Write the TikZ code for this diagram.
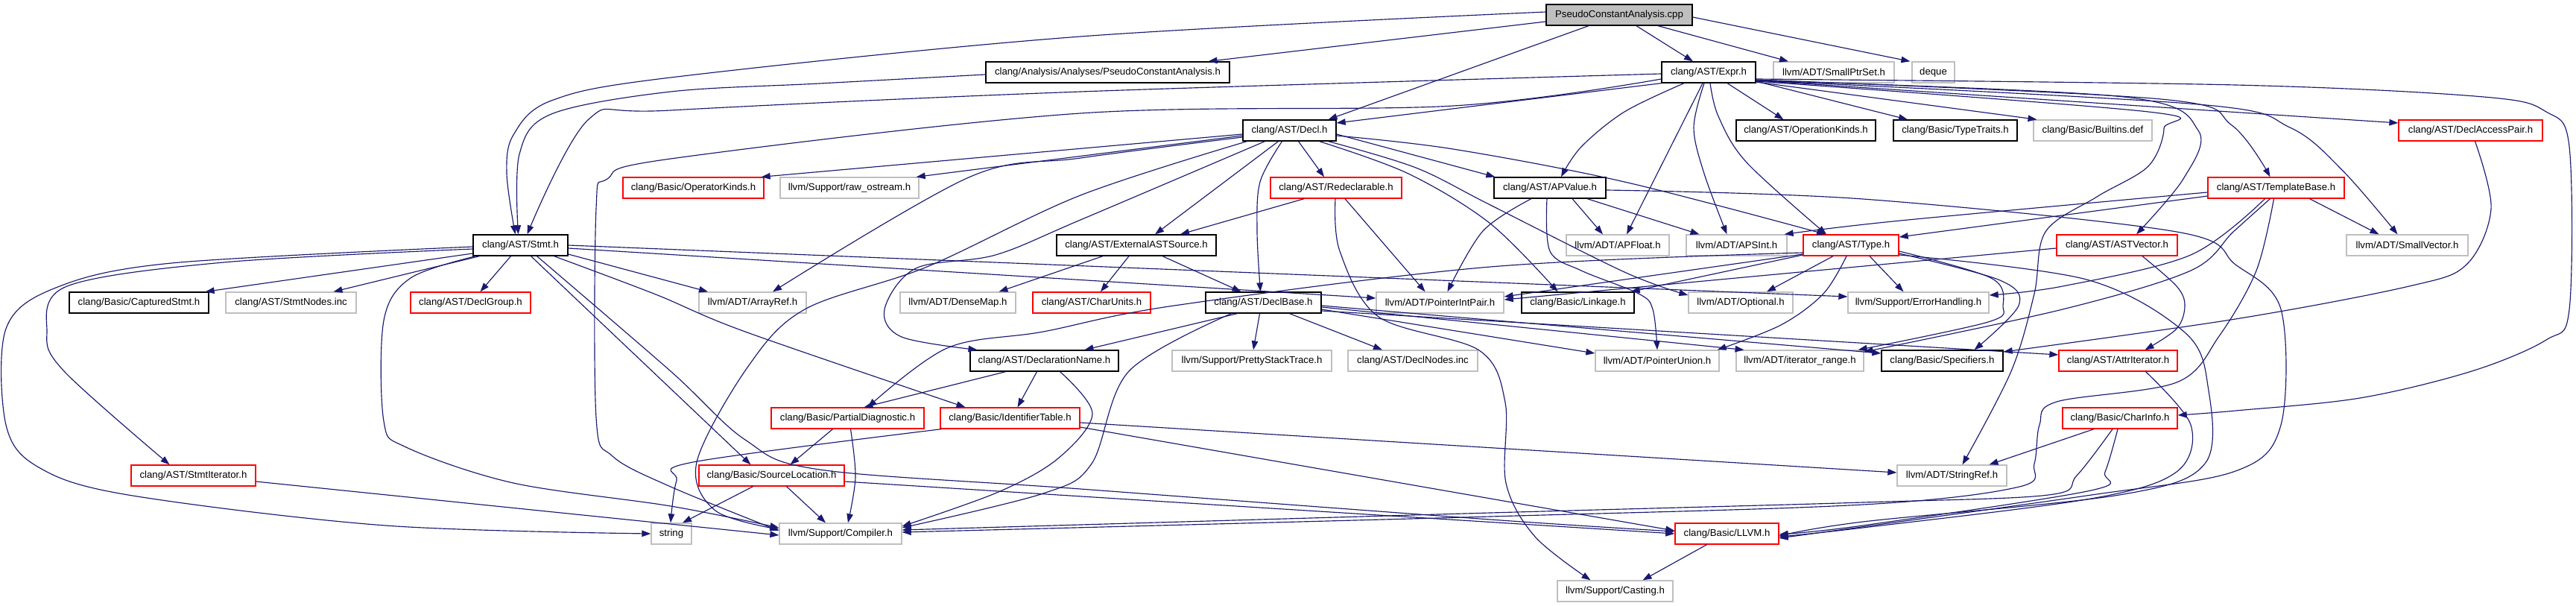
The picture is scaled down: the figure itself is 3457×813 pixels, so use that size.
\documentclass[tikz,border=0pt]{standalone}
\usepackage{fontspec}
\setmainfont{Liberation Sans}
\usetikzlibrary{arrows.meta}
\definecolor{edgec}{HTML}{191970}
\definecolor{grayb}{HTML}{BFBFBF}
\definecolor{redb}{HTML}{FF0000}
\newcommand{\nodefnt}{\fontsize{13.2}{15}\selectfont}
\begin{document}
\begin{tikzpicture}[x=1pt,y=-1pt,
  nd/.style={rectangle, minimum height=28pt, inner xsep=2pt, inner ysep=0pt, line width=1.3pt, font=\nodefnt, text=black},
  blk/.style={nd, draw=black},
  rednd/.style={nd, draw=redb},
  grynd/.style={nd, draw=grayb},
  edg/.style={color=edgec, line width=1.15pt, -{Triangle[length=12pt,width=8.5pt]}},
  sm/.style={smooth, tension=0.55}
]
\useasboundingbox (0,0) rectangle (3457,813);
% row 0
\node[blk, fill=grayb, minimum width=196pt] (cpp) at (2173,20) {PseudoConstantAnalysis.cpp};
% row 1
\node[blk, minimum width=327pt] (pcah) at (1486.5,97) {clang/Analysis/Analyses/PseudoConstantAnalysis.h};
\node[blk, minimum width=126pt] (expr) at (2293,97) {clang/AST/Expr.h};
\node[grynd, minimum width=162pt] (smallptrset) at (2461,97) {llvm/ADT/SmallPtrSet.h};
\node[grynd, minimum width=57pt] (deque) at (2594.5,97) {deque};
% row 2
\node[blk, minimum width=125pt] (decl) at (1730.5,175) {clang/AST/Decl.h};
\node[blk, minimum width=187pt] (opkinds) at (2423.5,175) {clang/AST/OperationKinds.h};
\node[blk, minimum width=166pt] (typetraits) at (2624,175) {clang/Basic/TypeTraits.h};
\node[grynd, minimum width=159pt] (builtins) at (2808.5,175) {clang/Basic/Builtins.def};
\node[rednd, minimum width=193pt] (declaccess) at (3315.5,175) {clang/AST/DeclAccessPair.h};
% row 3
\node[rednd, minimum width=189pt] (operatorkinds) at (930.5,252) {clang/Basic/OperatorKinds.h};
\node[grynd, minimum width=186pt] (rawostream) at (1140,252) {llvm/Support/raw\_ostream.h};
\node[rednd, minimum width=176pt] (redecl) at (1793,252) {clang/AST/Redeclarable.h};
\node[blk, minimum width=150pt] (apvalue) at (2080,252) {clang/AST/APValue.h};
\node[rednd, minimum width=183pt] (templatebase) at (3054.5,252) {clang/AST/TemplateBase.h};
% row 4
\node[blk, minimum width=127pt] (stmt) at (698.5,329) {clang/AST/Stmt.h};
\node[blk, minimum width=214pt] (extast) at (1525,329) {clang/AST/ExternalASTSource.h};
\node[grynd, minimum width=138pt] (apfloat) at (2171,329) {llvm/ADT/APFloat.h};
\node[grynd, minimum width=135pt] (apsint) at (2330.5,329) {llvm/ADT/APSInt.h};
\node[rednd, minimum width=128pt] (type) at (2484,329) {clang/AST/Type.h};
\node[rednd, minimum width=162pt] (astvector) at (2841,329) {clang/AST/ASTVector.h};
\node[grynd, minimum width=163pt] (smallvector) at (3230.5,329) {llvm/ADT/SmallVector.h};
% row 5
\node[blk, minimum width=187pt] (captured) at (186.5,406) {clang/Basic/CapturedStmt.h};
\node[grynd, minimum width=175pt] (stmtnodes) at (390.5,406) {clang/AST/StmtNodes.inc};
\node[rednd, minimum width=161pt] (declgroup) at (631.5,406) {clang/AST/DeclGroup.h};
\node[grynd, minimum width=144pt] (arrayref) at (1010,406) {llvm/ADT/ArrayRef.h};
\node[grynd, minimum width=155pt] (densemap) at (1285.5,406) {llvm/ADT/DenseMap.h};
\node[rednd, minimum width=158pt] (charunits) at (1465,406) {clang/AST/CharUnits.h};
\node[blk, minimum width=155pt] (declbase) at (1695.5,406) {clang/AST/DeclBase.h};
\node[grynd, minimum width=171pt] (pointerintpair) at (1932.5,406) {llvm/ADT/PointerIntPair.h};
\node[blk, minimum width=151pt] (linkage) at (2117.5,406) {clang/Basic/Linkage.h};
\node[grynd, minimum width=140pt] (optional) at (2336,406) {llvm/ADT/Optional.h};
\node[grynd, minimum width=189pt] (errorhandling) at (2574.5,406) {llvm/Support/ErrorHandling.h};
% row 6
\node[blk, minimum width=199pt] (declname) at (1401.5,484) {clang/AST/DeclarationName.h};
\node[grynd, minimum width=214pt] (prettystack) at (1680,484) {llvm/Support/PrettyStackTrace.h};
\node[grynd, minimum width=174pt] (declnodes) at (1896,484) {clang/AST/DeclNodes.inc};
\node[grynd, minimum width=166pt] (pointerunion) at (2224,484) {llvm/ADT/PointerUnion.h};
\node[grynd, minimum width=171pt] (iterrange) at (2415.5,484) {llvm/ADT/iterator\_range.h};
\node[blk, minimum width=163pt] (specifiers) at (2606.5,484) {clang/Basic/Specifiers.h};
\node[rednd, minimum width=159pt] (attriter) at (2842.5,484) {clang/AST/AttrIterator.h};
% row 7
\node[rednd, minimum width=205pt] (partialdiag) at (1137.5,561) {clang/Basic/PartialDiagnostic.h};
\node[rednd, minimum width=187pt] (identtable) at (1355.5,561) {clang/Basic/IdentifierTable.h};
\node[rednd, minimum width=154pt] (charinfo) at (2845,561) {clang/Basic/CharInfo.h};
% row 8
\node[rednd, minimum width=167pt] (stmtiter) at (259.5,638) {clang/AST/StmtIterator.h};
\node[rednd, minimum width=195pt] (sourceloc) at (1035.5,638) {clang/Basic/SourceLocation.h};
\node[grynd, minimum width=147pt] (stringref) at (2619.5,638) {llvm/ADT/StringRef.h};
% row 9
\node[grynd, minimum width=54pt] (string) at (901,716) {string};
\node[grynd, minimum width=164pt] (compiler) at (1128,716) {llvm/Support/Compiler.h};
\node[rednd, minimum width=139pt] (llvmh) at (2317.5,716) {clang/Basic/LLVM.h};
% row 10
\node[grynd, minimum width=155pt] (casting) at (2167.5,793) {llvm/Support/Casting.h};

% ---- edges from cpp
\draw[edg] plot[sm] coordinates {([yshift=4pt]cpp.west) (1450,49) (900,104) (740,135) (689,181) (680,233) ([xshift=-7pt]stmt.north)};
\draw[edg] ([yshift=-9pt]cpp.west) -- ([xshift=135pt]pcah.north);
\draw[edg] ([xshift=-41pt]cpp.south) -- ([xshift=52pt]decl.north);
\draw[edg] ([xshift=23pt]cpp.south) -- ([xshift=-21pt]expr.north);
\draw[edg] ([xshift=52pt]cpp.south) -- ([xshift=-61pt]smallptrset.north);
\draw[edg] ([yshift=-3pt]cpp.east) -- ([xshift=-2pt]deque.north west);
% ---- pcah
\draw[edg] plot[sm] coordinates {([yshift=-3pt]pcah.west) (1100,112) (900,123) (740,153) (697,207) ([xshift=-3pt]stmt.north)};
% ---- expr
\draw[edg] plot[sm] coordinates {([yshift=-2pt]expr.west) (1450,123) (900,148) (790,160) ([xshift=9pt]stmt.north)};
\draw[edg] plot[sm] coordinates {([yshift=-9pt]expr.west) (1950,142) (1450,152) (900,213) (815,240) (800,280) (800,560) (822,612) (900,653) ([yshift=4pt]compiler.west)};
\draw[edg] (expr.south west) -- ([yshift=10pt]decl.east);
\draw[edg] plot[sm] coordinates {([xshift=-33pt]expr.south) (2180,150) (2122,197) ([xshift=15pt]apvalue.north)};
\draw[edg] ([xshift=-8pt]expr.south) -- ([xshift=12pt]apfloat.north);
\draw[edg] plot[sm] coordinates {([xshift=-6pt]expr.south) (2273,171) (2287,233) ([xshift=-13pt]apsint.north)};
\draw[edg] plot[sm] coordinates {([xshift=2pt]expr.south) (2306,156) (2344,218) ([xshift=-33pt]type.north)};
\draw[edg] ([xshift=25pt]expr.south) -- ([xshift=-30pt]opkinds.north);
\draw[edg] ([yshift=-12pt]expr.east) -- ([xshift=-64pt]typetraits.north);
\draw[edg] ([yshift=-13pt]expr.east) -- ([xshift=-75pt]builtins.north);
\draw[edg] ([yshift=-11pt]expr.east) -- ([yshift=10pt]declaccess.west);
\draw[edg] plot[sm] coordinates {([yshift=-10pt]expr.east) (2900,133) (2995,168) ([xshift=-8pt]templatebase.north)};
\draw[edg] plot[sm] coordinates {([yshift=-11pt]expr.east) (2950,140) (3073,171) (3143,228) ([xshift=-13pt]smallvector.north)};
\draw[edg] plot[sm] coordinates {([yshift=-11pt]expr.east) (2850,130) (2950,175) (2930,240) ([xshift=26pt]astvector.north)};
\draw[edg] plot[sm] coordinates {([yshift=-12pt]expr.east) (2883,150) (2904,172) (2883,223) (2814,264) (2745,311) (2730,394) (2699,498) ([xshift=14pt]stringref.north)};
\draw[edg] plot[sm] coordinates {([yshift=-9pt]expr.east) (3000,114) (3333,130) (3417,150) (3448,197) (3448,415) (3417,456) (3317,498) (3167,534) (3000,551) ([yshift=4pt]charinfo.east)};
% ---- decl
\draw[edg] ([yshift=-5pt]decl.west) -- ([xshift=-4pt]operatorkinds.north east);
\draw[edg] ([yshift=-7pt]decl.west) -- ([xshift=-4pt]rawostream.north east);
\draw[edg] plot[sm] coordinates {([yshift=-9pt]decl.west) (1450,212) (1300,238) ([xshift=27pt]arrayref.north)};
\draw[edg] plot[sm] coordinates {([xshift=-57pt]decl.south) (1450,262) (1244,358) (1080,415) (1003,493) (935,620) (960,685) ([yshift=6pt]compiler.west)};
\draw[edg] plot[sm] coordinates {([xshift=-33pt]decl.south) (1450,295) (1336,342) (1229,360) (1187,415) (1210,452) ([xshift=-90pt]declname.north)};
\draw[edg] ([xshift=-15pt]decl.south) -- ([xshift=25pt]extast.north);
\draw[edg] plot[sm] coordinates {([xshift=-10pt]decl.south) (1691,244) (1687,311) ([xshift=-4pt]declbase.north)};
\draw[edg] ([xshift=12pt]decl.south) -- ([xshift=-16pt]redecl.north);
\draw[edg] ([yshift=-5pt]decl.east) -- ([xshift=2pt]apvalue.north west);
\draw[edg] plot[sm] coordinates {([yshift=-7pt]decl.east) (1950,200) (2180,244) ([xshift=-34pt]type.north)};
\draw[edg] plot[sm] coordinates {([xshift=40pt]decl.south) (1890,233) (2000,300) ([xshift=-27pt]linkage.north)};
\draw[edg] plot[sm] coordinates {([xshift=52pt]decl.south) (1900,225) (2000,275) (2180,365) ([yshift=10pt]optional.west)};
% ---- redecl
\draw[edg] ([xshift=-43pt]redecl.south) -- ([xshift=59pt]extast.north);
\draw[edg] ([xshift=12pt]redecl.south) -- ([xshift=-20pt]pointerintpair.north);
\draw[edg] plot[sm] coordinates {([xshift=-1pt]redecl.south) (1798,337) (1850,425) (1985,470) (2020,540) (2021,648) (2060,720) ([xshift=-33pt]casting.north)};
% ---- extast
\draw[edg] ([xshift=-10pt]extast.south) -- ([xshift=12pt]charunits.north);
\draw[edg] ([xshift=35pt]extast.south) -- ([xshift=-30pt]declbase.north);
\draw[edg] ([xshift=-45pt]extast.south) -- ([xshift=55pt]densemap.north);
% ---- declbase
\draw[edg] ([xshift=-35pt]declbase.south) -- ([xshift=54pt]declname.north);
\draw[edg] ([xshift=-5pt]declbase.south) -- ([xshift=2pt]prettystack.north);
\draw[edg] ([xshift=35pt]declbase.south) -- ([xshift=-41pt]declnodes.north);
\draw[edg] plot[sm] coordinates {([xshift=-43pt]declbase.south) (1515,498) (1465,622) (1400,662) ([yshift=8pt]compiler.east)};
\draw[edg] ([yshift=-9pt]declbase.east) -- ([yshift=10pt]pointerunion.west);
\draw[edg] ([yshift=-6pt]declbase.east) -- ([xshift=-75pt]iterrange.north);
\draw[edg] ([yshift=-4pt]declbase.east) -- ([yshift=10pt]specifiers.west);
\draw[edg] ([yshift=-11pt]declbase.east) -- ([yshift=8pt]attriter.west);
% ---- declname
\draw[edg] ([xshift=-52pt]declname.south) -- ([xshift=22pt]partialdiag.north);
\draw[edg] ([xshift=-10pt]declname.south) -- ([xshift=10pt]identtable.north);
\draw[edg] plot[sm] coordinates {([xshift=21pt]declname.south) (1466,555) (1420,615) (1340,660) ([yshift=10pt]compiler.east)};
% ---- partialdiag
\draw[edg] ([xshift=-20pt]partialdiag.south) -- ([xshift=25pt]sourceloc.north);
\draw[edg] plot[sm] coordinates {([xshift=4pt]partialdiag.south) (1148,640) ([xshift=10pt]compiler.north)};
% ---- identtable
\draw[edg] plot[sm] coordinates {([xshift=-92pt]identtable.south) (930,620) (908,645) ([xshift=-1pt]string.north)};
\draw[edg] ([yshift=-6pt]identtable.east) -- ([yshift=4pt]stringref.west);
\draw[edg] ([yshift=-12pt]identtable.east) -- ([yshift=4pt]llvmh.west);
% ---- sourceloc
\draw[edg] ([xshift=-25pt]sourceloc.south) -- ([xshift=15pt]string.north);
\draw[edg] ([xshift=20pt]sourceloc.south) -- ([xshift=-20pt]compiler.north);
\draw[edg] ([yshift=-8pt]sourceloc.east) -- (llvmh.west);
% ---- stmtiter
\draw[edg] ([yshift=-8pt]stmtiter.east) -- ([yshift=-2pt]compiler.west);
% ---- stmt
\draw[edg] plot[sm] coordinates {([yshift=-2pt]stmt.west) (230,353) (75,386) (8,441) (8,570) (52,627) (172,664) (517,705) (string.west)};
\draw[edg] plot[sm] coordinates {([yshift=-5pt]stmt.west) (300,352) (90,384) (63,446) (86,498) ([xshift=-32pt]stmtiter.north)};
\draw[edg] ([yshift=-11pt]stmt.west) -- ([xshift=-5pt]captured.north east);
\draw[edg] ([xshift=-55pt]stmt.south) -- ([xshift=57pt]stmtnodes.north);
\draw[edg] ([xshift=-13pt]stmt.south) -- ([xshift=13pt]declgroup.north);
\draw[edg] plot[sm] coordinates {([xshift=-60pt]stmt.south) (551,373) (515,430) (515,565) (545,600) (689,648) (900,679) ([yshift=8pt]compiler.west)};
\draw[edg] ([xshift=14pt]stmt.south) -- ([xshift=-28pt]sourceloc.north);
\draw[edg] plot[sm] coordinates {([xshift=22pt]stmt.south) (900,498) (1000,590) (1100,630) (1450,656) (2000,697) ([yshift=3pt]llvmh.west)};
\draw[edg] plot[sm] coordinates {([xshift=45pt]stmt.south) (880,395) (1000,445) ([xshift=-60pt]identtable.north)};
\draw[edg] ([yshift=-12pt]stmt.east) -- ([xshift=-60pt]arrayref.north);
\draw[edg] ([yshift=-4pt]stmt.east) -- ([yshift=6pt]pointerintpair.west);
\draw[edg] (stmt.east) -- ([yshift=8pt]errorhandling.west);
% ---- apvalue
\draw[edg] ([xshift=30pt]apvalue.south) -- ([xshift=-20pt]apfloat.north);
\draw[edg] ([xshift=50pt]apvalue.south) -- ([xshift=-50pt]apsint.north);
\draw[edg] plot[sm] coordinates {([xshift=-25pt]apvalue.south) (1990,310) ([xshift=10pt]pointerintpair.north)};
\draw[edg] plot[sm] coordinates {([xshift=-4pt]apvalue.south) (2080,337) (2122,363) (2199,394) (2218,415) (pointerunion.north)};
\draw[edg] plot[sm] coordinates {([yshift=-3pt]apvalue.east) (2500,267) (2921,311) (3000,355) (3061,415) (3061,570) (3000,632) (2800,665) ([yshift=-6pt]llvmh.east)};
% ---- type
\draw[edg] ([yshift=-12pt]type.west) -- ([yshift=8pt]pointerintpair.east);
\draw[edg] ([yshift=-13pt]type.west) -- ([xshift=-5pt]linkage.north east);
\draw[edg] ([xshift=-24pt]type.south) -- ([xshift=35pt]optional.north);
\draw[edg] ([xshift=25pt]type.south) -- ([xshift=-20pt]errorhandling.north);
\draw[edg] plot[sm] coordinates {([xshift=-6pt]type.south) (2447,394) (2390,436) ([xshift=-3pt]pointerunion.north east)};
\draw[edg] plot[sm] coordinates {([yshift=-8pt]type.east) (2672,373) (2688,410) (2668,432) ([xshift=-8pt]iterrange.north east)};
\draw[edg] plot[sm] coordinates {([yshift=-11pt]type.east) (2684,376) (2709,410) ([xshift=43pt]specifiers.north)};
\draw[edg] plot[sm] coordinates {([yshift=-10pt]type.west) (2000,358) (1576,410) (1400,445) (1271,467) ([xshift=27pt]partialdiag.north)};
\draw[edg] plot[sm] coordinates {([yshift=-13pt]type.east) (2800,375) (2932,446) (2963,518) (2959,622) (2844,664) (2500,700) ([yshift=-3pt]llvmh.east)};
% ---- templatebase
\draw[edg] ([yshift=-11pt]templatebase.west) -- ([yshift=11pt]type.east);
\draw[edg] plot[sm] coordinates {([yshift=-6pt]templatebase.west) (2550,296) ([xshift=-4pt]apsint.north east)};
\draw[edg] plot[sm] coordinates {([xshift=-15pt]templatebase.south) (2940,342) (2768,384) ([yshift=10pt]errorhandling.east)};
\draw[edg] plot[sm] coordinates {([xshift=-8pt]templatebase.south) (2997,311) (2940,363) (2768,415) ([yshift=12pt]iterrange.east)};
\draw[edg] plot[sm] coordinates {([xshift=-3pt]templatebase.south) (3028,363) (2978,451) (2921,513) (2760,539) (2737,570) (2730,622) (2710,653) (2500,677) (2000,693) ([yshift=2pt]compiler.east)};
\draw[edg] ([xshift=45pt]templatebase.south) -- ([xshift=-38pt]smallvector.north);
% ---- astvector
\draw[edg] ([yshift=-4pt]astvector.west) -- ([yshift=4pt]pointerintpair.east);
\draw[edg] plot[sm] coordinates {([xshift=34pt]astvector.south) (2921,384) (2932,410) (2921,441) ([xshift=36pt]attriter.north)};
% ---- attriter
\draw[edg] plot[sm] coordinates {([xshift=37pt]attriter.south) (2940,570) (2921,633) (2806,669) (2500,708) ([yshift=-4pt]llvmh.east)};
% ---- declaccess
\draw[edg] plot[sm] coordinates {([xshift=6pt]declaccess.south) (3343,280) (3310,355) (3233,384) (3000,428) ([yshift=12pt]specifiers.east)};
% ---- charinfo
\draw[edg] ([xshift=-35pt]charinfo.south) -- ([xshift=50pt]stringref.north);
\draw[edg] plot[sm] coordinates {([xshift=-10pt]charinfo.south) (2787,638) (2749,664) (2500,674) (2000,688) ([yshift=5pt]compiler.east)};
\draw[edg] plot[sm] coordinates {([xshift=-3pt]charinfo.south) (2825,633) (2806,658) (2500,705) ([yshift=-1pt]llvmh.east)};
% ---- llvm
\draw[edg] ([xshift=-27pt]llvmh.south) -- ([xshift=37pt]casting.north);
\end{tikzpicture}
\end{document}
